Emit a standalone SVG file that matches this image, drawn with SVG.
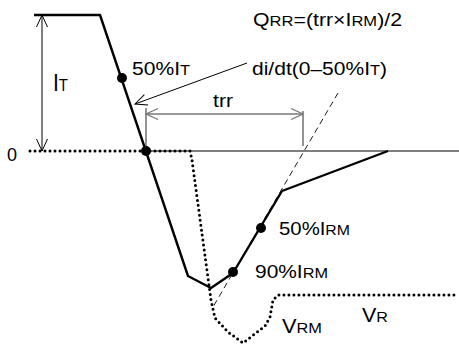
<svg xmlns="http://www.w3.org/2000/svg" width="459" height="345" viewBox="0 0 459 345">
<defs>
<style>
text{font-family:"Liberation Sans",Arial,sans-serif;font-size:18px;fill:#000}
.s{font-size:14px}
.thin{stroke:#000;stroke-width:1;fill:none}
.gray{stroke:#787878;stroke-width:1.6;fill:none}
.curve{stroke:#000;stroke-width:2.4;fill:none;stroke-linejoin:round}
.dots{stroke:#000;stroke-width:3;fill:none;stroke-linecap:round;stroke-dasharray:0 5}
.dash{stroke:#000;stroke-width:0.9;fill:none;stroke-dasharray:6 4}
</style>
<marker id="ab" viewBox="-13 -7 15 14" markerWidth="15" markerHeight="14" refX="0" refY="0" orient="auto-start-reverse" markerUnits="userSpaceOnUse">
<path d="M-12,-5.5 L0,0 L-12,5.5" fill="none" stroke="#000" stroke-width="1"/>
</marker>
<marker id="ag" viewBox="-13 -7 15 14" markerWidth="15" markerHeight="14" refX="0" refY="0" orient="auto-start-reverse" markerUnits="userSpaceOnUse">
<path d="M-12,-5.5 L0,0 L-12,5.5" fill="none" stroke="#787878" stroke-width="1.3"/>
</marker>
</defs>
<g id="connectors">
<line class="thin" x1="146" y1="151" x2="459" y2="151"/>
<path class="dots" d="M30,151 L190,151 L192,160 L211,300 L215,318 L228,332 L243,343 L265,326 L270,317 L273,300 L278,295 L456,295"/>
<line class="dash" x1="338" y1="93" x2="213" y2="307"/>
<line class="thin" x1="42" y1="151" x2="42" y2="15" marker-start="url(#ab)" marker-end="url(#ab)"/>
<line class="thin" x1="247" y1="63" x2="135" y2="104" marker-end="url(#ab)"/>
<line class="gray" x1="146" y1="108" x2="146" y2="151"/>
<line class="gray" x1="303" y1="111" x2="303" y2="146"/>
<line class="gray" x1="146" y1="114" x2="303" y2="114" marker-start="url(#ag)" marker-end="url(#ag)"/>
<path class="curve" d="M34,15 L100,15 L188,276 L211,288 L233,273 L282,191 L388,151"/>
</g>
<g id="dot-50-IT"><circle cx="122" cy="78" r="5"/></g>
<g id="dot-zero"><circle cx="146" cy="151" r="5"/></g>
<g id="dot-50-IRM"><circle cx="261" cy="228" r="5"/></g>
<g id="dot-90-IRM"><circle cx="233" cy="272" r="5"/></g>
<g id="labels">
<text x="7" y="161" font-size="19">0</text>
<text x="53" y="91" style="font-size:24px" textLength="15" lengthAdjust="spacingAndGlyphs">I<tspan style="font-size:17px">T</tspan></text>
<text x="132" y="75" textLength="58" lengthAdjust="spacingAndGlyphs">50%I<tspan class="s">T</tspan></text>
<text x="253" y="26" textLength="149" lengthAdjust="spacingAndGlyphs">Q<tspan class="s">RR</tspan>=(trr×I<tspan class="s">RM</tspan>)/2</text>
<text x="252" y="75" textLength="135" lengthAdjust="spacingAndGlyphs">di/dt(0–50%I<tspan class="s">T</tspan>)</text>
<text x="213" y="107" textLength="20" lengthAdjust="spacingAndGlyphs">trr</text>
<text x="279" y="235" textLength="71" lengthAdjust="spacingAndGlyphs">50%I<tspan class="s">RM</tspan></text>
<text x="255" y="278" textLength="73" lengthAdjust="spacingAndGlyphs">90%I<tspan class="s">RM</tspan></text>
<text x="282" y="333" style="font-size:20px" textLength="40" lengthAdjust="spacingAndGlyphs">V<tspan style="font-size:15px">RM</tspan></text>
<text x="362" y="322" style="font-size:20px" textLength="26" lengthAdjust="spacingAndGlyphs">V<tspan style="font-size:15px">R</tspan></text>
</g>
</svg>
